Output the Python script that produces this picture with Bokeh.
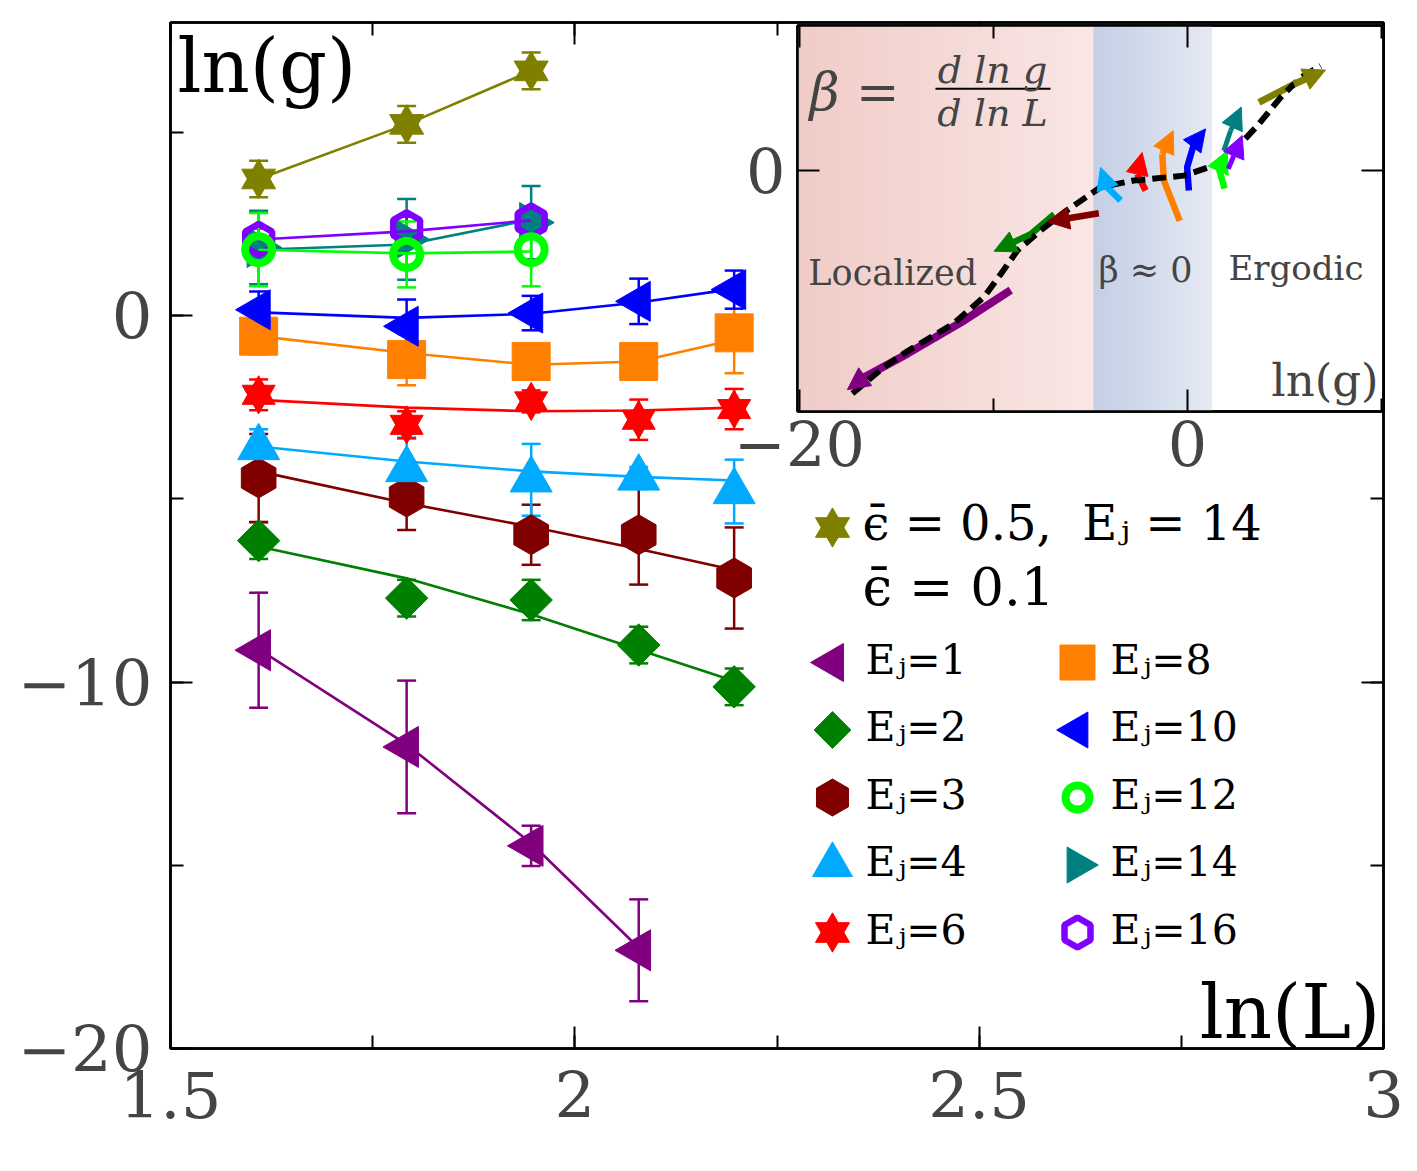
import numpy as np
from bokeh.plotting import figure
from bokeh.models import (Range1d, LinearAxis, SingleIntervalTicker, FixedTicker,
                          ColumnDataSource, Whisker, TeeHead, Label, Arrow, NormalHead, GridBox)
from bokeh.core.properties import value
from bokeh.embed import file_html
from bokeh.resources import INLINE

FONT = "DejaVu Serif"
TICKC = "#444444"
NB = "\u00a0"

# ---------------- main panel data: ln(g) vs ln(L) ----------------
lnL = [1.609, 1.792, 1.946, 2.079, 2.197]

lng_1 = [-9.13, -11.77, -14.47, -17.32]
err_1 = [1.57, 1.81, 0.55, 1.39]
fit_1 = [-9.10, -11.70, -14.40, -17.25]

lng_2 = [-6.14, -7.71, -7.76, -8.99, -10.13]
err_2 = [0.50, 0.50, 0.55, 0.50, 0.50]
fit_2 = [-6.30, -7.17, -8.15, -9.12, -9.97]

lng_3 = [-4.43, -4.95, -5.98, -5.98, -7.16]
err_3 = [1.20, 0.90, 0.82, 1.36, 1.38]
fit_3 = [-4.25, -5.12, -5.76, -6.37, -6.94]

lng_4 = [-3.60, -4.20, -4.48, -4.43, -4.80]
err_4 = [0.50, 0.87, 0.98, 0.30, 0.87]
fit_4 = [-3.57, -3.98, -4.25, -4.40, -4.50]

lng_6 = [-2.16, -2.98, -2.34, -2.84, -2.55]
err_6 = [0.42, 0.37, 0.30, 0.55, 0.55]
fit_6 = [-2.30, -2.51, -2.61, -2.59, -2.51]

lng_8 = [-0.56, -1.20, -1.25, -1.25, -0.47]
err_8 = [0.50, 0.70, 0.40, 0.40, 1.10]
fit_8 = [-0.56, -1.02, -1.34, -1.25, -0.66]

lng_10 = [0.16, -0.29, 0.07, 0.39, 0.71]
err_10 = [0.50, 0.73, 0.47, 0.62, 0.52]
fit_10 = [0.09, -0.06, 0.05, 0.36, 0.73]

lng_12 = [1.80, 1.67, 1.80]
err_12 = [1.00, 0.90, 1.00]
fit_12 = [1.80, 1.70, 1.75]

lng_14 = [1.86, 2.08, 2.54]
err_14 = [1.00, 1.10, 1.00]
fit_14 = [1.80, 1.94, 2.62]

lng_16 = [2.08, 2.40, 2.58]
err_16 = [0.30, 0.30, 0.30]
fit_16 = [2.08, 2.30, 2.60]

lng_eps05 = [3.73, 5.22, 6.68]
err_eps05 = [0.50, 0.50, 0.50]
fit_eps05 = [3.73, 5.22, 6.68]

# legend entries (two columns, five rows)
leg_labels = ["E\u2c7c=1", "E\u2c7c=2", "E\u2c7c=3", "E\u2c7c=4", "E\u2c7c=6",
              "E\u2c7c=8", "E\u2c7c=10", "E\u2c7c=12", "E\u2c7c=14", "E\u2c7c=16"]
leg_keys = ["1", "2", "3", "4", "6", "8", "10", "12", "14", "16"]
leg_col = [0, 0, 0, 0, 0, 1, 1, 1, 1, 1]
leg_row = [0, 1, 2, 3, 4, 0, 1, 2, 3, 4]
leg_head_label = "\u03f5\u0304 = 0.5," + NB + NB + "E\u2c7c = 14"
leg_title = "\u03f5\u0304 = 0.1"

# ---------------- inset data: beta vs ln(g) ----------------
beta_lng = [-17.27, -15.63, -14.40, -12.03, -10.48, -9.62, -8.76, -7.56, -6.36,
            -4.73, -4.48, -2.77, -0.19, 1.36, 2.39, 3.59, 4.79, 5.82, 6.86]
beta_val = [-23.5, -20.7, -19.0, -16.1, -13.3, -10.9, -8.4, -6.3, -4.4,
            -2.1, -1.75, -1.05, -0.53, 0.53, 2.1, 4.7, 7.7, 9.8, 11.05]

flow_1_x = [-9.11, -11.51, -14.43, -16.66, -17.53]
flow_1_y = [-12.6, -15.8, -19.3, -21.8, -23.1]
flow_2_x = [-6.87, -8.08, -9.97]
flow_2_y = [-4.6, -6.7, -8.5]
flow_3_x = [-4.57, -7.23]
flow_3_y = [-4.5, -5.4]
flow_4_x = [-3.45, -4.14, -4.48]
flow_4_y = [-3.16, -1.75, 0.35]
flow_6_x = [-2.16, -2.59, -2.34]
flow_6_y = [-2.1, -0.35, 1.9]
flow_8_x = [-0.40, -1.22, -1.30, -0.74]
flow_8_y = [-5.3, -1.05, 1.75, 4.2]
flow_10_x = [0.07, -0.02, 0.33, 0.93]
flow_10_y = [-2.1, 0.35, 2.8, 4.4]
flow_12_x = [1.91, 1.62, 2.05]
flow_12_y = [-1.9, 0.18, 2.1]
flow_14_x = [1.87, 2.22, 2.77]
flow_14_y = [2.1, 4.2, 6.7]
flow_16_x = [2.10, 2.82]
flow_16_y = [0.18, 3.7]
flow_eps05_x = [3.68, 5.48, 7.11]
flow_eps05_y = [7.19, 9.1, 10.6]

localized_band = [-20.1, -4.85]
critical_band = [-4.85, 1.2]

C = {"1": "#800080", "2": "#008000", "3": "#800000", "4": "#00aaff", "6": "#ff0000",
     "8": "#ff8000", "10": "#0000ff", "12": "#00ff00", "14": "#008080", "16": "#8000ff",
     "e05": "#808000"}
PI = np.pi

# marker styles: main plot and legend
STY = {
    "1": [dict(marker="triangle", size=41, angle=PI / 2)],
    "2": [dict(marker="square", size=30, angle=PI / 4)],
    "3": [dict(marker="hex", size=40, angle=PI / 2)],
    "4": [dict(marker="triangle", size=42)],
    "6": [dict(marker="triangle", size=33), dict(marker="inverted_triangle", size=33)],
    "8": [dict(marker="square", size=38)],
    "10": [dict(marker="triangle", size=40, angle=PI / 2)],
    "12": [dict(marker="circle", size=27, open=True, lw=8)],
    "14": [dict(marker="triangle", size=40, angle=-PI / 2)],
    "16": [dict(marker="hex", size=31, angle=PI / 2, open=True, lw=6.5)],
    "e05": [dict(marker="triangle", size=34), dict(marker="inverted_triangle", size=34)],
}
LEG_SIZE = {"1": 38, "2": 26, "3": 37, "4": 40, "6": 34, "8": 35, "10": 36, "12": 24,
            "14": 36, "16": 30, "e05": 34}


def style_axis(ax, label_size=None):
    ax.axis_line_width = 2.5
    ax.axis_line_color = "black"
    ax.major_tick_in = 22
    ax.major_tick_out = 0
    ax.minor_tick_in = 13
    ax.minor_tick_out = 0
    ax.major_tick_line_width = 2
    ax.minor_tick_line_width = 2
    ax.major_tick_line_color = "black"
    ax.minor_tick_line_color = "black"
    ax.major_label_text_font = FONT
    if label_size is None:
        ax.major_label_text_font_size = "1px"
        ax.major_label_text_color = None
        ax.major_label_standoff = 0
    else:
        ax.major_label_text_font_size = label_size
        ax.major_label_text_color = TICKC


# ---------------- main figure ----------------
p = figure(width=1417, height=1171, x_range=Range1d(1.5, 3), y_range=Range1d(-20, 8),
           output_backend="svg", toolbar_location=None,
           min_border_left=170, min_border_right=34, min_border_top=22, min_border_bottom=123,
           background_fill_color="white", border_fill_color="white")
p.grid.visible = False
p.outline_line_color = "black"
p.outline_line_width = 2.5

xt = SingleIntervalTicker(interval=0.5, num_minor_ticks=2)
yt = SingleIntervalTicker(interval=10, num_minor_ticks=2)
bottom_ax = p.below[0]
left_ax = p.left[0]
bottom_ax.ticker = xt
left_ax.ticker = yt
bottom_ax.major_label_overrides = {1.5: "1.5", 2: "2", 2.5: "2.5", 3: "3"}
left_ax.major_label_overrides = {-20: "\u221220", -10: "\u221210", 0: "0"}
style_axis(bottom_ax, "64px")
style_axis(left_ax, "64px")
bottom_ax.major_label_standoff = 22
left_ax.major_label_standoff = 18
top_ax = LinearAxis(ticker=xt)
right_ax = LinearAxis(ticker=yt)
style_axis(top_ax)
style_axis(right_ax)
p.add_layout(top_ax, "above")
p.add_layout(right_ax, "right")

# legend coordinate frame (column index, row index)
p.extra_x_ranges = {"legx": Range1d(-2.702, 2.249)}
p.extra_y_ranges = {"legy": Range1d(5.7185, -9.4815)}


def scatter_style(target, xs, ys, color, glyphs, legend=False, size=None, **extra):
    for g in glyphs:
        kw = dict(marker=g.get("marker"), size=(size if legend else g.get("size")),
                  angle=g.get("angle", 0.0), line_color=color, line_width=g.get("lw", 1))
        if g.get("open"):
            kw["fill_alpha"] = 0
        else:
            kw["fill_color"] = color
        kw.update(extra)
        target.scatter(xs, ys, **kw)


def add_series(x, y, err, fit, key):
    color = C[key]
    n = len(y)
    xs = x[:n]
    p.line(xs, fit, line_color=color, line_width=2.6)
    scatter_style(p, xs, y, color, STY[key])
    src = ColumnDataSource(dict(x=xs, upper=[a + b for a, b in zip(y, err)],
                                lower=[a - b for a, b in zip(y, err)]))
    p.add_layout(Whisker(source=src, base="x", upper="upper", lower="lower",
                         line_color=color, line_width=2.5,
                         upper_head=TeeHead(size=19, line_color=color, line_width=2.5),
                         lower_head=TeeHead(size=19, line_color=color, line_width=2.5)))


add_series(lnL, lng_1, err_1, fit_1, "1")
add_series(lnL, lng_2, err_2, fit_2, "2")
add_series(lnL, lng_3, err_3, fit_3, "3")
add_series(lnL, lng_4, err_4, fit_4, "4")
add_series(lnL, lng_6, err_6, fit_6, "6")
add_series(lnL, lng_8, err_8, fit_8, "8")
add_series(lnL, lng_10, err_10, fit_10, "10")
add_series(lnL, lng_14, err_14, fit_14, "14")
add_series(lnL, lng_16, err_16, fit_16, "16")
add_series(lnL, lng_12, err_12, fit_12, "12")
add_series(lnL, lng_eps05, err_eps05, fit_eps05, "e05")

p.add_layout(Label(x=1.5087, y=6.81, text="ln(g)", text_font=FONT, text_font_size="75px",
                   text_baseline="alphabetic", text_color="black"))
p.add_layout(Label(x=2.996, y=-19.01, text="ln(L)", text_font=FONT, text_font_size="75px",
                   text_baseline="alphabetic", text_align="right", text_color="black"))

# legend drawn in its own (column,row) frame
LX = dict(x_range_name="legx", y_range_name="legy")
for k, c, r in zip(leg_keys, leg_col, leg_row):
    scatter_style(p, [c], [r], C[k], STY[k], legend=True, size=LEG_SIZE[k], **LX)
p.text(x=leg_col, y=leg_row, text=leg_labels, x_offset=33, y_offset=-3,
       text_font=value(FONT), text_font_size="41px", text_baseline="alphabetic",
       text_color="black", **LX)
scatter_style(p, [0], [-2], C["e05"], STY["e05"], legend=True, size=LEG_SIZE["e05"], **LX)
p.text(x=[0], y=[-2], text=[leg_head_label], x_offset=30, y_offset=-5,
       text_font=value(FONT), text_font_size="48px", text_baseline="alphabetic",
       text_color="black", **LX)
p.text(x=[0], y=[-1], text=[leg_title], x_offset=30, y_offset=-9,
       text_font=value(FONT), text_font_size="53px", text_baseline="alphabetic",
       text_color="black", **LX)

# ---------------- inset ----------------
q = figure(width=790, height=531, x_range=Range1d(-20.1, 10.1), y_range=Range1d(-25.4, 15.3),
           output_backend="svg", toolbar_location=None,
           min_border_left=170, min_border_right=34, min_border_top=22, min_border_bottom=123,
           background_fill_color="white", border_fill_color=None)
q.grid.visible = False
q.outline_line_color = "black"
q.outline_line_width = 2.5

qxt = FixedTicker(ticks=[-20, 0], minor_ticks=[-10, 10])
qyt = FixedTicker(ticks=[0], minor_ticks=[])
qb = q.below[0]
ql = q.left[0]
qb.ticker = qxt
ql.ticker = qyt
qb.major_label_overrides = {-20: "\u221220", 0: "0"}
style_axis(qb, "62px")
style_axis(ql, "62px")
qb.major_label_standoff = 9
ql.major_label_standoff = 12
qtop = LinearAxis(ticker=qxt)
qright = LinearAxis(ticker=qyt)
style_axis(qtop)
style_axis(qright)
q.add_layout(qtop, "above")
q.add_layout(qright, "right")


def band(x0, x1, c0, c1, n):
    edges = np.linspace(x0, x1, n + 1)
    t = np.linspace(0, 1, n)
    cols = []
    for tt in t:
        rgb = [int(round(a + (b - a) * tt)) for a, b in zip(c0, c1)]
        cols.append("#%02x%02x%02x" % tuple(rgb))
    q.quad(left=edges[:-1], right=edges[1:] + (x1 - x0) / n * 0.3, bottom=-25.4, top=15.3,
           fill_color=cols, line_color=None)


band(localized_band[0], localized_band[1], (240, 204, 200), (249, 230, 228), 40)
band(critical_band[0], critical_band[1], (196, 207, 229), (228, 233, 243), 30)

flows = [(flow_1_x, flow_1_y, C["1"], 8), (flow_2_x, flow_2_y, C["2"], 6.5),
         (flow_3_x, flow_3_y, C["3"], 6.5), (flow_4_x, flow_4_y, C["4"], 6.5),
         (flow_6_x, flow_6_y, C["6"], 6.5), (flow_8_x, flow_8_y, C["8"], 6.5),
         (flow_10_x, flow_10_y, C["10"], 6.5), (flow_12_x, flow_12_y, C["12"], 6.5),
         (flow_14_x, flow_14_y, C["14"], 5), (flow_16_x, flow_16_y, C["16"], 5),
         (flow_eps05_x, flow_eps05_y, C["e05"], 7)]
for fx, fy, c, lw in flows:
    if len(fx) > 2:
        q.line(fx[:-1], fy[:-1], line_color=c, line_width=lw)

q.line(beta_lng, beta_val, line_color="black", line_width=6, line_dash="14 7")

for fx, fy, c, lw in flows:
    q.add_layout(Arrow(end=NormalHead(size=22, fill_color=c, line_color=c, line_width=1),
                       x_start=fx[-2], y_start=fy[-2], x_end=fx[-1], y_end=fy[-1],
                       line_color=c, line_width=lw))

q.add_layout(Label(x=-19.48, y=8.3, text="\u03b2 =", text_font=FONT, text_font_size="52px",
                   text_font_style="italic", text_baseline="alphabetic"))
q.add_layout(Label(x=-10.05, y=10.63, text="d ln g", text_font=FONT, text_font_size="38px",
                   text_font_style="italic", text_baseline="alphabetic", text_align="center"))
q.add_layout(Label(x=-10.05, y=6.11, text="d ln L", text_font=FONT, text_font_size="38px",
                   text_font_style="italic", text_baseline="alphabetic", text_align="center"))
frac_bar_x = [-12.99, -7.06]
frac_bar_y = [8.63, 8.63]
q.line(frac_bar_x, frac_bar_y, line_color="black", line_width=2.2)

q.add_layout(Label(x=-19.54, y=-10.83, text="Localized", text_font=FONT, text_font_size="35px",
                   text_baseline="alphabetic"))
q.add_layout(Label(x=-4.59, y=-10.53, text="\u03b2 \u2248 0", text_font=FONT, text_font_size="35px",
                   text_baseline="alphabetic"))
q.add_layout(Label(x=2.11, y=-10.31, text="Ergodic", text_font=FONT, text_font_size="34px",
                   text_baseline="alphabetic"))
q.add_layout(Label(x=9.85, y=-22.13, text="ln(g)", text_font=FONT, text_font_size="45px",
                   text_baseline="alphabetic", text_align="right"))

q.margin = (3, 0, 0, 627)
q.align = "start"
p.margin = (0, 0, 0, 0)

layout = GridBox(children=[(p, 0, 0), (q, 0, 0)])

open("out.html", "w").write(file_html(layout, INLINE))
